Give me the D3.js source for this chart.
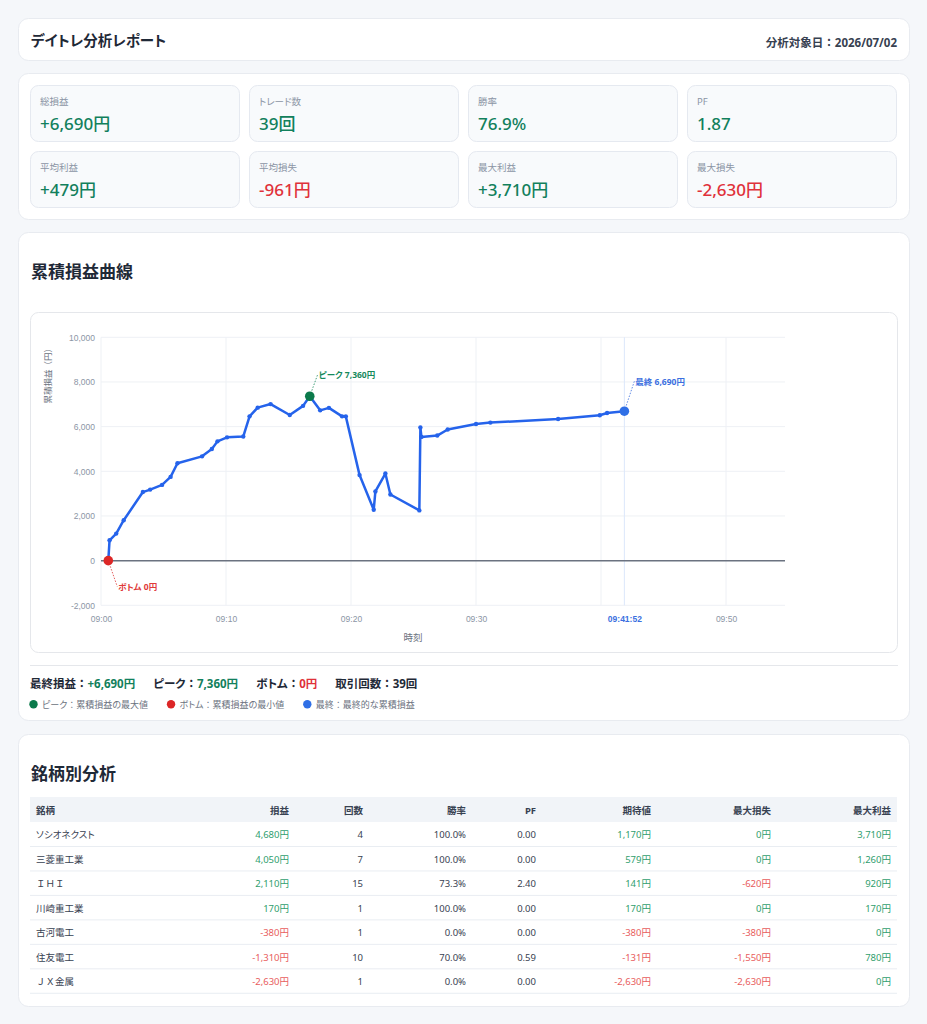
<!DOCTYPE html>
<html><head><meta charset="utf-8">
<script src="https://cdn.jsdelivr.net/npm/d3@7/dist/d3.min.js"></script>
<style>
html,body{margin:0;padding:0;background:#f5f7fa;}
svg{display:block;font-family:"Noto Sans","Noto Sans CJK JP",sans-serif;font-feature-settings:"palt" 1;}
tspan.fw{font-feature-settings:"palt" 0;}
</style></head><body>
<svg id="page" width="927" height="1024"></svg>
<script>
// ---------- DATA ----------
const reportTitle = "デイトレ分析レポート";
const reportDate = "分析対象日：2026/07/02";

const statLabels = ["総損益","トレード数","勝率","PF","平均利益","平均損失","最大利益","最大損失"];
const statValues = ["+6,690円","39回","76.9%","1.87","+479円","-961円","+3,710円","-2,630円"];
const statSigns  = [1,1,1,1,1,-1,1,-1];

const tradeTimes = ["09:00:35","09:00:41","09:01:13","09:01:49","09:03:21","09:03:56","09:04:53","09:05:34",
  "09:06:07","09:08:05","09:08:52","09:09:19","09:10:05","09:11:23","09:11:53","09:12:32","09:13:34",
  "09:15:06","09:16:10","09:16:42","09:17:32","09:18:14","09:19:17","09:19:35","09:20:41","09:21:49",
  "09:21:57","09:22:45","09:23:09","09:25:28","09:25:33","09:25:38","09:26:54","09:27:44","09:30:00",
  "09:31:09","09:36:34","09:39:54","09:40:29","09:41:52"];
const cumulativePnl = [0,910,1210,1810,3070,3180,3390,3750,
  4360,4670,5000,5340,5520,5560,6460,6850,7010,
  6520,6930,7360,6730,6840,6460,6460,3830,2280,
  3100,3900,2960,2250,5960,5540,5600,5870,6120,
  6180,6340,6510,6610,6690];

const xDomain = ["09:00:00","09:54:43"];
const yDomain = [-2000, 10000];
const yTicks = [-2000,0,2000,4000,6000,8000,10000];
const hiddenXTickLabels = ["09:40"];
const yAxisTitle = "累積損益（円）";
const xAxisTitle = "時刻";

const summaryLabels = ["最終損益：","ピーク：","ボトム：","取引回数："];
const summaryValues = ["+6,690円","7,360円","0円","39回"];
const summaryKinds  = ["pos","pos","neg","plain"];
const legendLabels = ["ピーク：累積損益の最大値","ボトム：累積損益の最小値","最終：最終的な累積損益"];

const tableColumns = ["銘柄","損益","回数","勝率","PF","期待値","最大損失","最大利益"];
const symbols      = ["ソシオネクスト","三菱重工業","ＩＨＩ","川崎重工業","古河電工","住友電工","ＪＸ金属"];
const symbolPnl    = [4680,4050,2110,170,-380,-1310,-2630];
const symbolCounts = [4,7,15,1,1,10,1];
const symbolWinRates = [100.0,100.0,73.3,100.0,0.0,70.0,0.0];
const symbolPF     = [0,0,2.40,0,0,0.59,0];
const symbolExpect = [1170,579,141,170,-380,-131,-2630];
const symbolMaxLoss= [0,0,-620,0,-380,-1550,-2630];
const symbolMaxWin = [3710,1260,920,170,0,780,0];

// ---------- STYLE ----------
const C = {
  text:"#1f2937", sub:"#8b95a5", grid:"#eef1f5", green:"#12805c", red:"#e0313a",
  tGreen:"#2f9e6e", tRed:"#e85d5d", blue:"#2563eb", peak:"#0b7a4b", bottom:"#dc2626",
  final:"#2f6fe6", cardStroke:"#e8ebf0"
};
const loc = d3.formatLocale({decimal:".", thousands:",", grouping:[3], currency:["",""], minus:"-"});
const fInt = loc.format(",");
const yen = v => fInt(v) + "円";

// write japanese text: full-width punctuation / latin keep full width
const FW = /[：（）\uFF21-\uFF3A\uFF41-\uFF5A]/;
function jp(el, str){
  let buf = "", fw = null;
  const flush = () => { if(buf){ const t = el.append("tspan").text(buf); if(fw) t.attr("class","fw"); } buf=""; };
  for(const ch of str){
    const isFw = FW.test(ch);
    if(fw!==null && isFw!==fw) flush();
    fw = isFw; buf += ch;
  }
  flush();
  return el;
}

const svg = d3.select("#page");

function card(x,y,w,h){
  svg.append("rect").attr("x",x+0.5).attr("y",y+0.5).attr("width",w).attr("height",h)
    .attr("rx",10).attr("fill","#fff").attr("stroke",C.cardStroke);
}

// ---------- HEADER ----------
card(18,18,891,42);
svg.append("text").attr("x",31).attr("y",46).attr("font-size",14.5).attr("font-weight",700)
  .attr("fill",C.text).text(reportTitle);
jp(svg.append("text").attr("x",897).attr("y",47).attr("text-anchor","end").attr("font-size",11.5)
  .attr("font-weight",700).attr("fill","#374151"), reportDate);

// ---------- STATS ----------
card(18,73,891,146);
statLabels.forEach((lab,i)=>{
  const col=i%4, row=Math.floor(i/4);
  const x=30+col*219, y=85+row*66;
  svg.append("rect").attr("x",x+0.5).attr("y",y+0.5).attr("width",209).attr("height",56)
    .attr("rx",8).attr("fill","#f8fafc").attr("stroke","#e5e9f0");
  svg.append("text").attr("x",x+10).attr("y",y+20).attr("font-size",9.5).attr("fill",C.sub).text(lab);
  svg.append("text").attr("x",x+10).attr("y",y+45).attr("font-size",17).attr("font-weight",500)
    .attr("fill",statSigns[i]>0?C.green:C.red).text(statValues[i]);
});

// ---------- CHART CARD ----------
card(18,232,891,488);
svg.append("text").attr("x",31).attr("y",278).attr("font-size",17).attr("font-weight",700)
  .attr("fill",C.text).text("累積損益曲線");
svg.append("rect").attr("x",30.5).attr("y",312.5).attr("width",867).attr("height",340)
  .attr("rx",8).attr("fill","#fff").attr("stroke","#e5e7eb");

const parseT = d3.timeParse("%H:%M:%S");
const fmtHM = d3.timeFormat("%H:%M");
const fmtHMS = d3.timeFormat("%H:%M:%S");
const data = tradeTimes.map((t,i)=>({t:parseT(t), v:cumulativePnl[i]}));

const plot = {left:101, right:785, top:337.3, bottom:605.3};
const x = d3.scaleTime().domain(xDomain.map(parseT)).range([plot.left, plot.right]);
const y = d3.scaleLinear().domain(yDomain).range([plot.bottom, plot.top]);

const g = svg.append("g");
g.append("g").selectAll("line").data(yTicks).join("line")
  .attr("x1",plot.left).attr("x2",plot.right).attr("y1",d=>y(d)).attr("y2",d=>y(d))
  .attr("stroke",C.grid).attr("stroke-width",1);
const xTicks = x.ticks(d3.timeMinute.every(10));
g.append("g").selectAll("line").data(xTicks).join("line")
  .attr("x1",d=>x(d)).attr("x2",d=>x(d)).attr("y1",plot.top).attr("y2",plot.bottom)
  .attr("stroke",C.grid).attr("stroke-width",1);

const last = data[data.length-1];
g.append("line").attr("x1",x(last.t)).attr("x2",x(last.t)).attr("y1",plot.top).attr("y2",plot.bottom)
  .attr("stroke","#dbe7fb").attr("stroke-width",1);

g.append("line").attr("x1",plot.left).attr("x2",plot.right).attr("y1",y(0)).attr("y2",y(0))
  .attr("stroke","#6b7280").attr("stroke-width",1.5);

const yAxis = d3.axisLeft(y).tickValues(yTicks).tickFormat(fInt).tickSize(0).tickPadding(6);
const ya = g.append("g").attr("transform",`translate(${plot.left},0)`).call(yAxis);
ya.select(".domain").remove();
ya.selectAll("text").attr("fill",C.sub).attr("font-size",8.5).attr("font-family",null);

const xAxis = d3.axisBottom(x).tickValues(xTicks)
  .tickFormat(d=> hiddenXTickLabels.includes(fmtHM(d)) ? "" : fmtHM(d)).tickSize(0).tickPadding(11);
const xa = g.append("g").attr("transform",`translate(0,${plot.bottom})`).call(xAxis);
xa.select(".domain").remove();
xa.selectAll("text").attr("fill",C.sub).attr("font-size",8.5).attr("font-family",null);
const xf = g.append("g").attr("transform",`translate(0,${plot.bottom})`)
  .call(d3.axisBottom(x).tickValues([last.t]).tickFormat(fmtHMS).tickSize(0).tickPadding(11));
xf.select(".domain").remove();
xf.selectAll("text").attr("fill","#3b6fe0").attr("font-size",8.5).attr("font-weight",700).attr("font-family",null);

jp(svg.append("text").attr("transform","translate(46.5,344) rotate(-90)").attr("text-anchor","end")
  .attr("dominant-baseline","central").attr("font-size",8.5).attr("fill","#6b7280"), yAxisTitle);
svg.append("text").attr("x",413).attr("y",640.5).attr("text-anchor","middle")
  .attr("font-size",9.5).attr("fill","#6b7280").text(xAxisTitle);

const line = d3.line().x(d=>x(d.t)).y(d=>y(d.v));
g.append("path").datum(data).attr("d",line).attr("fill","none").attr("stroke",C.blue)
  .attr("stroke-width",2.5).attr("stroke-linejoin","round").attr("stroke-linecap","round");
g.append("g").selectAll("circle").data(data).join("circle")
  .attr("cx",d=>x(d.t)).attr("cy",d=>y(d.v)).attr("r",2.2).attr("fill",C.blue);

const peak = data[d3.maxIndex(data,d=>d.v)];
const bottom = data[d3.minIndex(data,d=>d.v)];
const marks = [
  {d:peak, color:C.peak, label:"ピーク "+yen(peak.v), dx:9, dy:-22, tcol:"#168a5c"},
  {d:bottom, color:C.bottom, label:"ボトム "+yen(bottom.v), dx:10, dy:26, tcol:"#e03a3a"},
  {d:last, color:C.final, label:"最終 "+yen(last.v), dx:11, dy:-30, tcol:"#3b6fe0"}
];
marks.forEach(m=>{
  const cx=x(m.d.t), cy=y(m.d.v);
  g.append("line").attr("x1",cx).attr("y1",cy).attr("x2",cx+m.dx-1).attr("y2",cy+m.dy)
    .attr("stroke",m.tcol).attr("stroke-width",1).attr("stroke-dasharray","1.5,1.5").attr("opacity",0.8);
  g.append("circle").attr("cx",cx).attr("cy",cy).attr("r",4.8).attr("fill",m.color);
  g.append("text").attr("x",cx+m.dx).attr("y",cy+m.dy).attr("dominant-baseline","central")
    .attr("font-size",8.5).attr("font-weight",700).attr("fill",m.tcol).text(m.label);
});

svg.append("line").attr("x1",30).attr("x2",898).attr("y1",665.5).attr("y2",665.5).attr("stroke","#e5e7eb");

// summary
let sx = 30;
summaryLabels.forEach((lab,i)=>{
  const t = svg.append("text").attr("x",sx).attr("y",687.5).attr("font-size",11.5).attr("font-weight",700);
  jp(t.append("tspan").attr("fill",C.text), lab);
  const col = summaryKinds[i]==="pos"?C.green:summaryKinds[i]==="neg"?C.red:C.text;
  t.append("tspan").attr("fill",col).text(summaryValues[i]);
  sx += t.node().getComputedTextLength() + 18;
});

// legend
let lx = 33.5;
const legendColors = [C.peak, C.bottom, C.final];
legendLabels.forEach((lab,i)=>{
  svg.append("circle").attr("cx",lx).attr("cy",704.3).attr("r",4.2).attr("fill",legendColors[i]);
  const t = jp(svg.append("text").attr("x",lx+8.5).attr("y",704.3).attr("dominant-baseline","central")
    .attr("font-size",9).attr("fill","#6b7280"), lab);
  lx = lx + 8.5 + t.node().getComputedTextLength() + 23;
});

// ---------- TABLE ----------
card(18,734,891,272);
svg.append("text").attr("x",31).attr("y",779.5).attr("font-size",17).attr("font-weight",700)
  .attr("fill",C.text).text("銘柄別分析");

const colX = [36,289,363,466,536,651,771,891];
const colAnchor = ["start","end","end","end","end","end","end","end"];
svg.append("rect").attr("x",30).attr("y",797).attr("width",867).attr("height",25).attr("fill","#f1f4f8");
tableColumns.forEach((c,j)=>{
  svg.append("text").attr("x",colX[j]).attr("y",810).attr("dominant-baseline","central")
    .attr("text-anchor",colAnchor[j]).attr("font-size",9.5).attr("font-weight",700).attr("fill","#374151").text(c);
});
const rowH = 24.47;
const money = v => ({txt:yen(v), col: v<0?C.tRed:C.tGreen});
symbols.forEach((s,i)=>{
  const top = 822 + i*rowH, cy = top + rowH/2;
  svg.append("line").attr("x1",30).attr("x2",897).attr("y1",top+rowH).attr("y2",top+rowH)
    .attr("stroke","#e9edf2").attr("stroke-width",1);
  const cells = [
    {txt:s, col:"#374151"},
    money(symbolPnl[i]),
    {txt:String(symbolCounts[i]), col:"#374151"},
    {txt:symbolWinRates[i].toFixed(1)+"%", col:"#374151"},
    {txt:symbolPF[i].toFixed(2), col:"#374151"},
    money(symbolExpect[i]),
    money(symbolMaxLoss[i]),
    money(symbolMaxWin[i])
  ];
  cells.forEach((c,j)=>{
    jp(svg.append("text").attr("x",colX[j]).attr("y",cy).attr("dominant-baseline","central")
      .attr("text-anchor",colAnchor[j]).attr("font-size",9.5).attr("fill",c.col), c.txt);
  });
});
</script>
</body></html>
